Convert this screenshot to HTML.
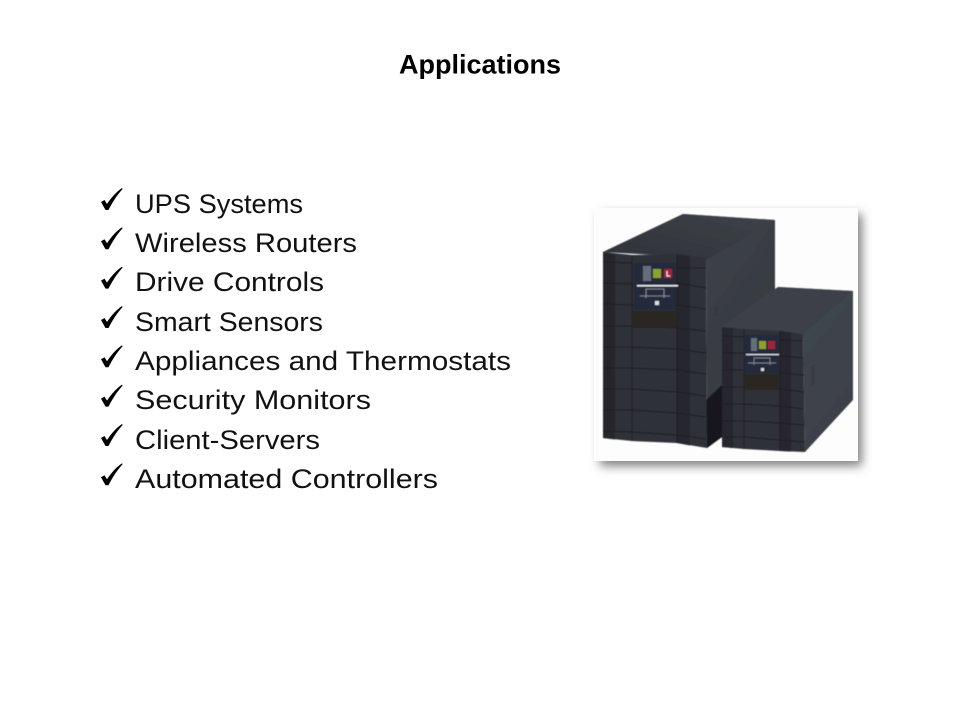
<!DOCTYPE html>
<html lang="en">
<head>
<meta charset="utf-8">
<title>Applications</title>
<style>
html,body{margin:0;padding:0;background:#fff;width:960px;height:720px;overflow:hidden}
svg{display:block}
text{font-family:"Liberation Sans",sans-serif;fill:#000}
.i{font-size:26.5px;fill:#111}
</style>
</head>
<body>
<svg width="960" height="720" viewBox="0 0 960 720" xmlns="http://www.w3.org/2000/svg">
<defs>
<path id="c" d="M101 202L104.500 200L107 204C111 198 116 192 122 188L122.600 189C117 195 112 203 108.500 210L105.500 210Z" fill="#000"/>
<linearGradient id="top1" x1="0" y1="1" x2="1" y2="0"><stop offset="0" stop-color="#2e3237"/><stop offset="1" stop-color="#3e434a"/></linearGradient>
<linearGradient id="side1" x1="0" y1="0" x2="1" y2="1"><stop offset="0" stop-color="#42474e"/><stop offset="1" stop-color="#33373d"/></linearGradient>
<linearGradient id="side2" x1="0" y1="0" x2="1" y2="1"><stop offset="0" stop-color="#434851"/><stop offset="1" stop-color="#3a4049"/></linearGradient>
<filter id="sh" x="-15%" y="-15%" width="130%" height="130%"><feGaussianBlur stdDeviation="5"/></filter>
<filter id="b"><feGaussianBlur stdDeviation="0.500"/></filter>
</defs>

<text x="399" y="73.500" font-size="26.700" font-weight="700" textLength="162" lengthAdjust="spacingAndGlyphs">Applications</text>

<use href="#c"/>
<use href="#c" y="39.300"/>
<use href="#c" y="78.600"/>
<use href="#c" y="118"/>
<use href="#c" y="157.300"/>
<use href="#c" y="196.600"/>
<use href="#c" y="236"/>
<use href="#c" y="275.300"/>

<text class="i" x="135" y="213" textLength="168" lengthAdjust="spacingAndGlyphs">UPS Systems</text>
<text class="i" x="135" y="252" textLength="222" lengthAdjust="spacingAndGlyphs">Wireless Routers</text>
<text class="i" x="135" y="291" textLength="189" lengthAdjust="spacingAndGlyphs">Drive Controls</text>
<text class="i" x="135" y="331" textLength="188" lengthAdjust="spacingAndGlyphs">Smart Sensors</text>
<text class="i" x="135" y="370" textLength="376" lengthAdjust="spacingAndGlyphs">Appliances and Thermostats</text>
<text class="i" x="135" y="409" textLength="236" lengthAdjust="spacingAndGlyphs">Security Monitors</text>
<text class="i" x="135" y="449" textLength="185" lengthAdjust="spacingAndGlyphs">Client-Servers</text>
<text class="i" x="135" y="488" textLength="303" lengthAdjust="spacingAndGlyphs">Automated Controllers</text>

<!-- photo frame -->
<rect x="600" y="214" width="262" height="252" fill="#808080" filter="url(#sh)"/>
<rect x="594" y="208" width="264" height="253" fill="#fdfdfd"/>

<g filter="url(#b)">
<!-- large unit -->
<polygon points="603,252 683,214 775,220 775,390 722,437 707,448 706,258" fill="url(#side1)"/>
<polygon points="706,400 722,385 722,437 707,448" fill="#16171b"/>
<polygon points="603,252 683,214 775,220 706,260 680,255" fill="url(#top1)"/>
<path d="M603 252L632 255L677 254L706 258L707 448L677 443L632 441L603 438Z" fill="#2f3138"/>
<path d="M603 252L615 253.500V439.500L603 438Z" fill="#25272c"/>
<path d="M677 254L690 256V445.500L677 443Z" fill="#26282e"/>
<g stroke="#1b1c21" stroke-width="1" fill="none">
<path d="M603 262L632 263M677 268L706 268"/>
<path d="M603 283L632 284L677 283L706 288"/>
<path d="M603 304L632 305L677 305L706 309"/>
<path d="M603 326L632 326L677 328L706 331"/>
<path d="M603 347L632 347L677 349L706 353"/>
<path d="M603 368L632 368L677 370L706 374"/>
<path d="M603 389L632 389L677 392L706 396"/>
<path d="M603 410L632 410L677 413L706 417"/>
<path d="M603 431L632 432L677 435L706 439"/>
<path d="M632 255V441M677 255V443"/>
</g>
<!-- panel -->
<rect x="634" y="263" width="42" height="47" fill="#20293a"/>
<rect x="632" y="311" width="45" height="17" fill="#2b2523"/>
<rect x="643" y="266" width="8" height="15" fill="#666e7c"/>
<rect x="653" y="269" width="8" height="9" fill="#8da12f"/>
<rect x="664" y="269" width="8" height="9" fill="#a2203a"/>
<path d="M667 271V276H670" stroke="#eee" stroke-width="1" fill="none"/>
<rect x="637" y="285" width="41" height="1.500" fill="#e8e8e8"/>
<path d="M646 298V289H664V298M640 296H670" stroke="#99a" stroke-width="0.800" fill="none"/>
<rect x="655" y="301" width="4" height="4" fill="#ddd"/>

<!-- small unit -->
<polygon points="722,327 778,287 853,291 853,400 805,452 803,334" fill="url(#side2)"/>
<polygon points="722,327 778,287 853,291 803,334 760,331" fill="#3c4148"/>
<path d="M722 327L744 329L780 331L803 334L805 452L780 451L744 449L722 447Z" fill="#2d3037"/>
<path d="M722 327L733 328V448L722 447Z" fill="#25272d"/>
<path d="M780 331L791 332.500V451.500L780 451Z" fill="#26282e"/>
<g stroke="#1b1c21" stroke-width="1" fill="none">
<path d="M722 336L744 337M780 340L803 341"/>
<path d="M722 353L744 353M780 356L803 358"/>
<path d="M722 370L744 370L780 373L804 375"/>
<path d="M722 387L744 387L780 389L804 392"/>
<path d="M722 404L744 404L780 406L804 409"/>
<path d="M722 421L744 421L780 423L804 425"/>
<path d="M722 437L744 437L780 440L805 442"/>
<path d="M744 329V449M780 331V451"/>
</g>
<rect x="744" y="335" width="35" height="38" fill="#20293a"/>
<rect x="745" y="374" width="34" height="16" fill="#2b2523"/>
<rect x="751" y="338" width="6" height="13" fill="#666e7c"/>
<rect x="759" y="341" width="7" height="8" fill="#8da12f"/>
<rect x="768" y="341" width="7" height="8" fill="#a2203a"/>
<rect x="746" y="354" width="33" height="1.200" fill="#e8e8e8"/>
<path d="M754 365V358H770V365M748 363H776" stroke="#99a" stroke-width="0.700" fill="none"/>
<rect x="761" y="368" width="3" height="3" fill="#ddd"/>
<!-- vents -->
<g stroke="#2a2d31" stroke-width="0.700">
<path d="M811 368L815 365M811 371L815 368M811 374L815 371M811 377L815 374M811 380L815 377M811 383L815 380M811 386L815 383"/>
<path d="M714 310L718 307M714 313L718 310M714 316L718 313"/>
</g>
</g>
</svg>
</body>
</html>
